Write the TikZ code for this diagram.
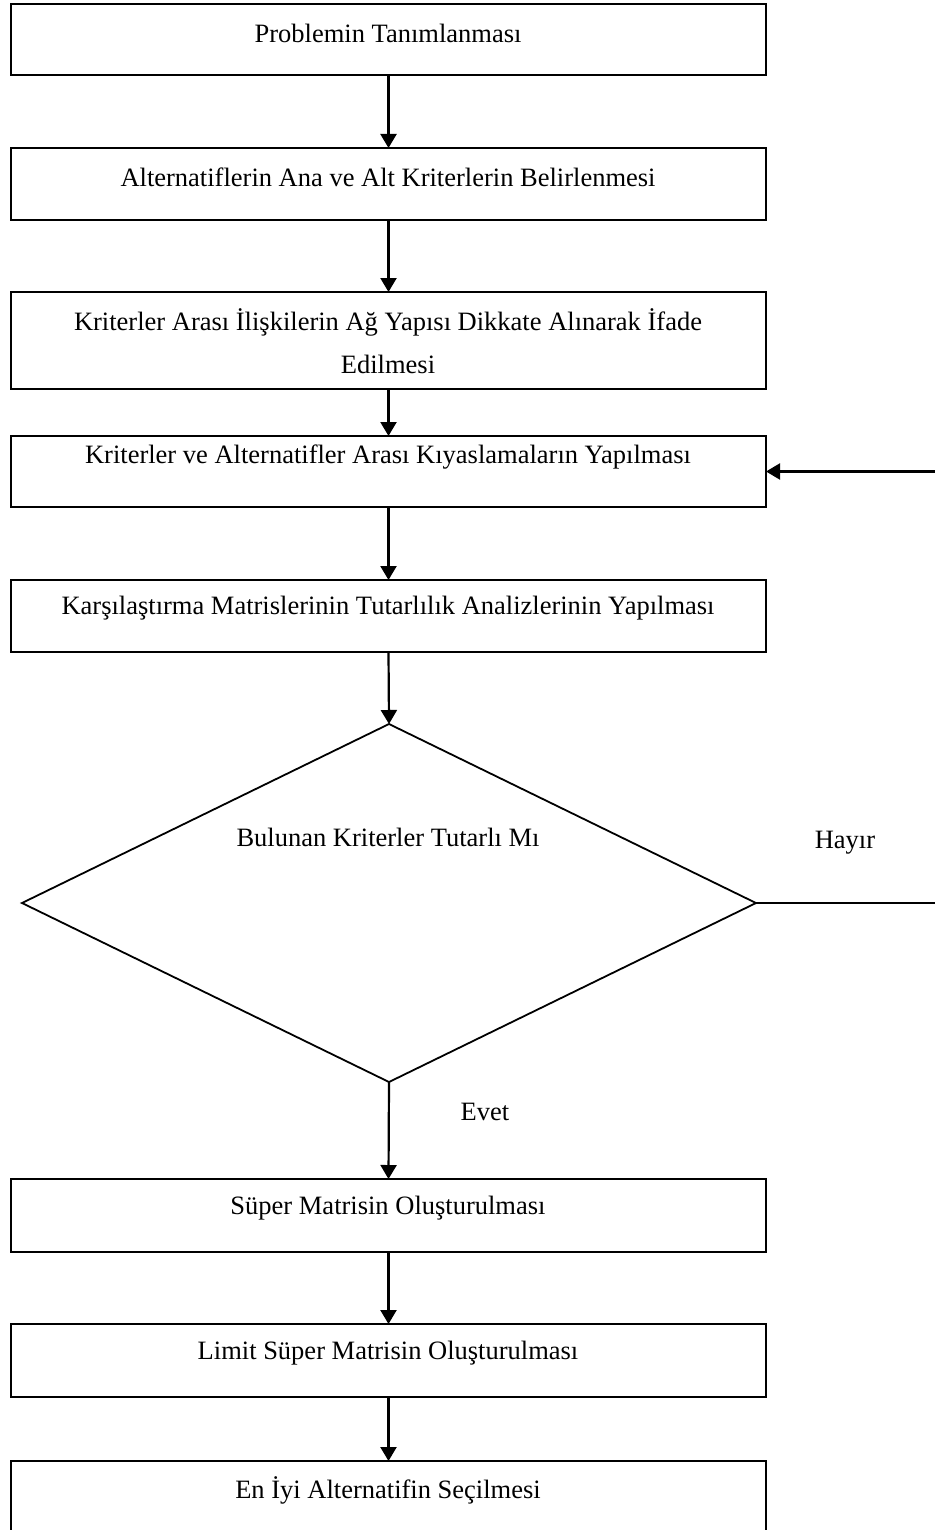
\documentclass[tikz,border=0pt]{standalone}
\usepackage{fontspec}
\setmainfont{Liberation Serif}
\usetikzlibrary{shapes.geometric,arrows.meta}
\begin{document}
\begin{tikzpicture}[x=1pt,y=-1pt,
  stepbox/.style={draw,line width=2.5pt,rectangle,minimum width=755pt,inner sep=0pt,outer sep=0pt},
  lbl/.style={font=\fontsize{26.5}{43}\selectfont,inner sep=0pt,align=center},
  conn/.style={line width=2.2pt,-{Triangle[length=14pt,width=16pt]}},
  decision/.style={draw,diamond,line width=1.8pt,minimum width=734pt,minimum height=358pt,inner sep=0pt,outer sep=0pt}]
\useasboundingbox (0,0) rectangle (934,1530);
\node[stepbox,minimum height=71pt] (b1) at (388.5,39.5) {};
\node[stepbox,minimum height=72pt] (b2) at (388.5,184) {};
\node[stepbox,minimum height=97pt] (b3) at (388.5,340.5) {};
\node[stepbox,minimum height=71pt] (b4) at (388.5,471.5) {};
\node[stepbox,minimum height=72pt] (b5) at (388.5,616) {};
\node[decision] (d) at (389,903) {};
\node[stepbox,minimum height=73pt] (b6) at (388.5,1215.5) {};
\node[stepbox,minimum height=73pt] (b7) at (388.5,1360.5) {};
\node[stepbox,minimum height=73pt] (b8) at (388.5,1497.5) {};
\node[lbl] (t1) at (388,33) {Problemin Tanımlanması};
\node[lbl] (t2) at (388,177) {Alternatiflerin Ana ve Alt Kriterlerin Belirlenmesi};
\node[lbl] (t3) at (388,341.5) {Kriterler Arası İlişkilerin Ağ Yapısı Dikkate Alınarak İfade\\Edilmesi};
\node[lbl] (t4) at (388,457) {Kriterler ve Alternatifler Arası Kıyaslamaların Yapılması};
\node[lbl] (t5) at (388,608) {Karşılaştırma Matrislerinin Tutarlılık Analizlerinin Yapılması};
\node[lbl] (td) at (388,837) {Bulunan Kriterler Tutarlı Mı};
\node[lbl] (t6) at (388,1208) {Süper Matrisin Oluşturulması};
\node[lbl] (t7) at (388,1353) {Limit Süper Matrisin Oluşturulması};
\node[lbl] (t8) at (388,1490) {En İyi Alternatifin Seçilmesi};
\node[lbl] (hayir) at (845,843) {Hayır};
\node[lbl] (evet) at (485,1112) {Evet};
\coordinate (r1) at (936,903);
\coordinate (r2) at (936,471.5);
\draw[conn] (b1.south) -- (b2.north);
\draw[conn] (b2.south) -- (b3.north);
\draw[conn] (b3.south) -- (b4.north);
\draw[conn] (b4.south) -- (b5.north);
\draw[conn] (b5.south) -- (d.north);
\draw[conn] (d.south) -- (b6.north);
\draw[conn] (b6.south) -- (b7.north);
\draw[conn] (b7.south) -- (b8.north);
\draw[line width=2pt] (d.east) -- (r1) -- (r2);
\draw[conn] (r2) -- (b4.east);
\end{tikzpicture}
\end{document}
